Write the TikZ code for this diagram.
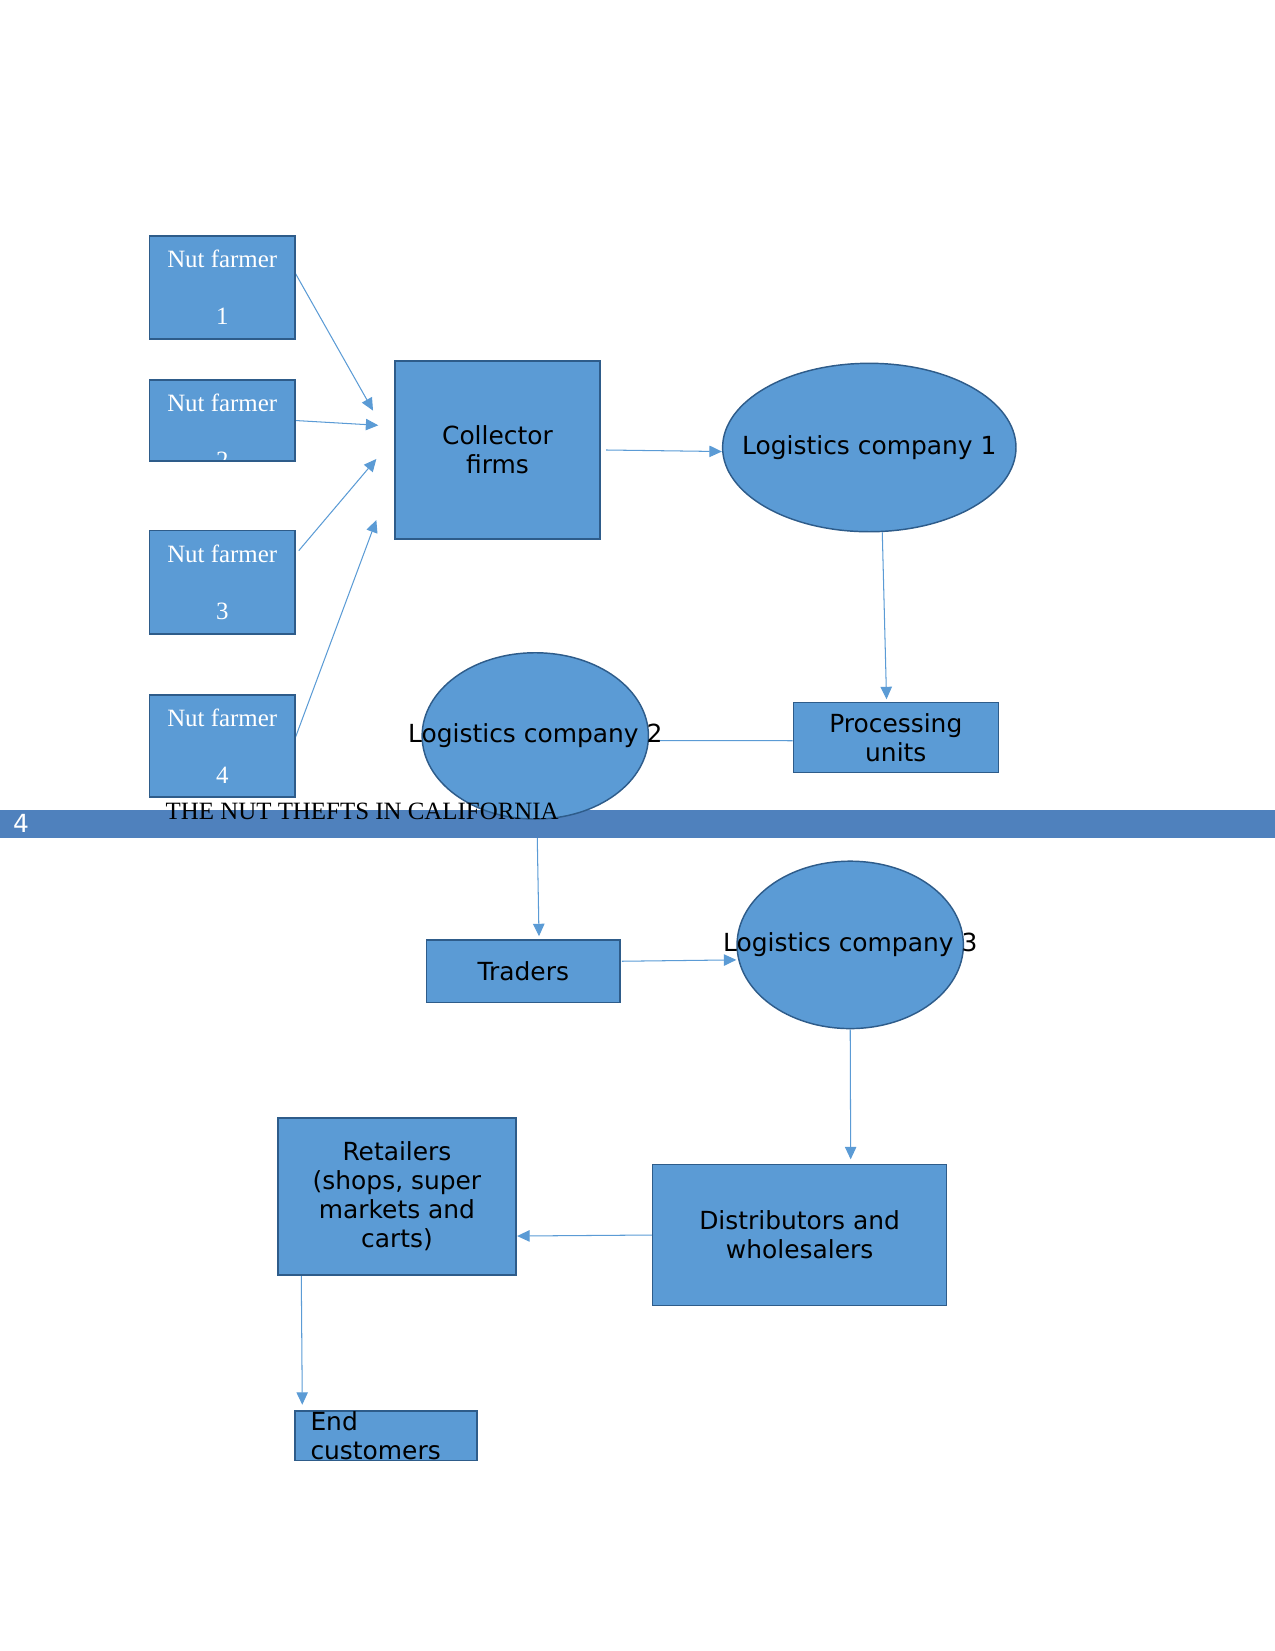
\documentclass[tikz,border=0pt]{standalone}
\usepackage{fontspec}
\setmainfont{Liberation Serif}
\setsansfont{DejaVu Sans}
\usepackage{xcolor}
\usepackage{tikz}
\usetikzlibrary{arrows.meta,positioning,shapes.geometric}
\definecolor{qfill}{HTML}{5B9BD5}
\definecolor{qborder}{HTML}{2E5C8A}
\definecolor{qline}{HTML}{5B9BD5}
\definecolor{qband}{HTML}{4F81BD}
\pgfdeclarelayer{back}
\pgfsetlayers{back,main}

\tikzset{
    lbl/.style={font=\sffamily\fontsize{12}{14}\selectfont, text=black},
    box/.style={rectangle, draw=qborder, fill=qfill, line width=0.7pt, inner sep=2pt, align=center, lbl},
    oval/.style={ellipse, draw=qborder, fill=qfill, line width=0.7pt, inner sep=0pt},
    farmtxt/.style={anchor=base, inner sep=0pt, text=white, font=\rmfamily\fontsize{12}{14}\selectfont},
    farmer/.style={rectangle, draw=qborder, fill=qfill, line width=0.7pt, minimum width=2.46cm,
        path picture={
            \node[farmtxt] at ([yshift=-0.533cm]path picture bounding box.north) {Nut farmer};
            \node[farmtxt] at ([yshift=-1.499cm]path picture bounding box.north) {#1};
        }},
    link/.style={draw=qline, line width=0.5pt},
    flow/.style={link, -{Triangle[length=6pt,width=5.5pt]}}
}

\begin{document}
\begin{tikzpicture}
    \useasboundingbox (0,0) rectangle (21.59,-27.957);

    % Farmers
    \node[farmer=1, minimum height=1.748cm] (nf1) at (3.763,-4.867) {};
    \node[farmer=2, minimum height=1.372cm] (nf2) at (3.763,-7.121) {};
    \node[farmer=3, minimum height=1.748cm] (nf3) at (3.763,-9.859) {};
    \node[farmer=4, minimum height=1.727cm] (nf4) at (3.763,-12.632) {};

    % Chain
    \node[box, minimum width=3.476cm, minimum height=3.014cm] (cf) at (8.424,-7.620) {Collector\\firms};
    \node[oval, minimum width=4.968cm, minimum height=2.852cm, label={[lbl]center:Logistics company 1}] (lc1) at (14.720,-7.578) {};
    \node[box, minimum width=3.471cm, minimum height=1.185cm] (pu) at (15.169,-12.485) {Processing\\units};
    \node[oval, minimum width=3.832cm, minimum height=2.816cm, label={[lbl]center:Logistics company 2}] (lc2) at (9.064,-12.461) {};
    \node[box, minimum width=3.280cm, minimum height=1.052cm] (tr) at (8.861,-16.446) {Traders};
    \node[oval, minimum width=3.832cm, minimum height=2.835cm, label={[lbl]center:Logistics company 3}] (lc3) at (14.397,-16.000) {};
    \node[box, minimum width=4.975cm, minimum height=2.389cm] (dw) at (13.540,-20.913) {Distributors and\\wholesalers};
    \node[box, minimum width=4.028cm, minimum height=2.659cm] (ret) at (6.722,-20.261) {Retailers\\(shops, super\\markets and\\carts)};
    \node[box, minimum width=3.084cm, minimum height=0.837cm, inner sep=0pt,
        label={[lbl, align=left, anchor=west, inner sep=0pt, xshift=0.271cm]west:{End\\customers}}] (endc) at (6.534,-24.308) {};

    % Header band
    \node[anchor=base west, inner sep=0pt, font=\rmfamily\fontsize{12}{14}\selectfont] (title) at (2.799,-13.873) {THE NUT THEFTS IN CALIFORNIA};
    \node[anchor=base, inner sep=0pt, text=white, font=\sffamily\fontsize{12}{14}\selectfont] (pg) at (0.356,-14.094) {4};

    \begin{pgfonlayer}{back}
        % Arrows
        \draw[flow] ([shift={(0,0.232)}]nf1.east) -- ([shift={(-0.357,0.667)}]cf.west);
        \draw[flow] (nf2.east) -- ([shift={(-0.268,0.418)}]cf.west);
        \draw[flow] ([shift={(0.054,0.535)}]nf3.east) -- ([shift={(-0.301,-0.152)}]cf.west);
        \draw[flow] ([shift={(0,0.152)}]nf4.east) -- ([shift={(-0.301,-1.185)}]cf.west);
        \draw[flow] ([shift={(0.09,0)}]cf.east) -- ([shift={(0,-0.068)}]lc1.west);
        \draw[flow] ([shift={(0.22,0)}]lc1.south) -- ([shift={(-0.157,0.039)}]pu.north);
        \draw[link] ([shift={(0,-0.058)}]pu.west) -- ([shift={(0,-0.081)}]lc2.east);
        \draw[flow] ([shift={(0.029,-0.034)}]lc2.south) -- ([shift={(0.266,0.054)}]tr.north);
        \draw[flow] ([shift={(0.017,0.169)}]tr.east) -- ([shift={(0,-0.254)}]lc3.west);
        \draw[flow] (lc3.south) -- ([shift={(0.865,0.075)}]dw.north);
        \draw[flow] (dw.west) -- ([shift={(0.008,-0.669)}]ret.east);
        \draw[flow] ([shift={(0.406,0)}]ret.south west) -- ([shift={(0.139,0.090)}]endc.north west);

        % Band
        \fill[qband] (0,-13.716) rectangle (21.59,-14.195);
    \end{pgfonlayer}
\end{tikzpicture}
\end{document}
